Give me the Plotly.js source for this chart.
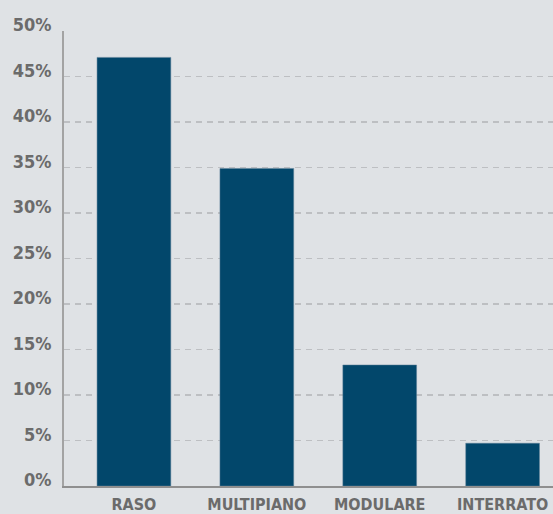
<!DOCTYPE html>
<html>
<head>
<meta charset="utf-8">
<script src="https://cdn.plot.ly/plotly-3.0.1.min.js"></script>
<style>html,body{margin:0;padding:0;background:#dfe2e5;}#chart{width:553px;height:514px;}</style>
</head>
<body>
<div id="chart"></div>
<script>
const categories = ["RASO", "MULTIPIANO", "MODULARE", "INTERRATO"];
const values = [47.1, 34.9, 13.3, 4.7];
const tickVals = [0, 5, 10, 15, 20, 25, 30, 35, 40, 45, 50];
const tickText = tickVals.map(v => v + "%");

const font = "DejaVu Sans Condensed, Liberation Sans Narrow, sans-serif";
Plotly.newPlot("chart", [{
  type: "bar",
  x: categories,
  y: values,
  marker: {color: "#02476b", line: {color: "#5d7f96", width: 0.5}},
  hoverinfo: "none"
}], {
  width: 553, height: 514,
  margin: {l: 64, r: 0, t: 31, b: 28},
  paper_bgcolor: "#dfe2e5",
  plot_bgcolor: "#dfe2e5",
  bargap: 0.4,
  showlegend: false,
  xaxis: {
    type: "category",
    range: [-0.569, 3.41],
    showline: true, linecolor: "#8f8f8f", linewidth: 2,
    showgrid: false, ticks: "",
    tickfont: {family: font, size: 16, color: "#6b6b6b", weight: "bold"},
    ticklabelstandoff: 3
  },
  yaxis: {
    range: [0, 50],
    tickvals: tickVals, ticktext: tickText,
    showline: true, linecolor: "#a3a3a3", linewidth: 2,
    showgrid: true, gridcolor: "#bdbfc2", griddash: "6px,5px", gridwidth: 1.5,
    zeroline: false, ticks: "",
    tickfont: {family: font, size: 18, color: "#6b6b6b", weight: "bold"},
    ticklabelstandoff: 7,
    ticklabelshift: -6
  }
}, {displayModeBar: false, staticPlot: true});
</script>
</body>
</html>
